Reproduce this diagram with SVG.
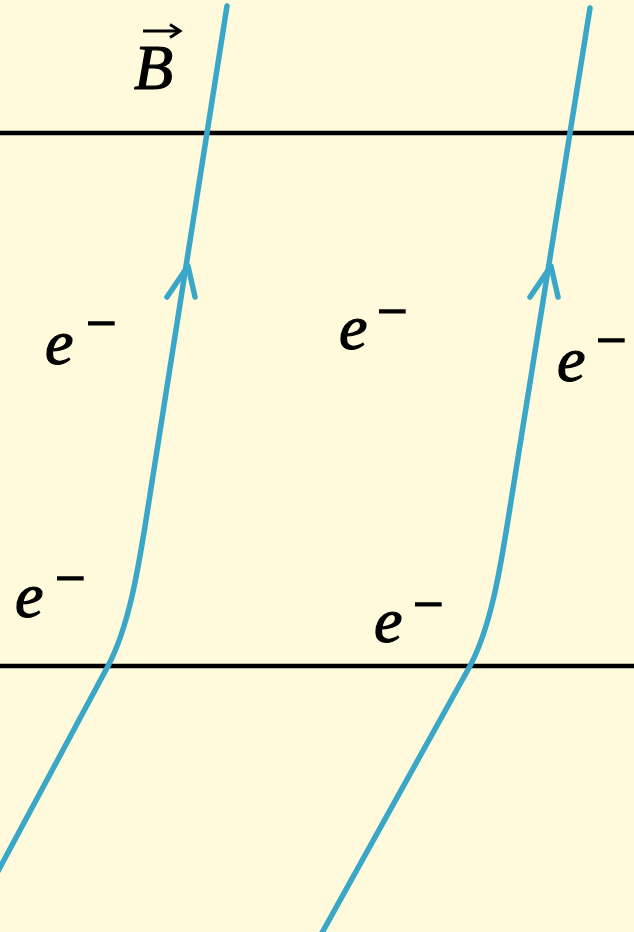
<svg xmlns="http://www.w3.org/2000/svg" width="634" height="932" viewBox="0 0 634 932">
<style>
.bg{fill:#fffadc}
.plate{stroke:#000;stroke-width:4.5;fill:none}
.field{stroke:#3aa7c9;stroke-width:5.5;fill:none;stroke-linecap:round;stroke-linejoin:round}
.lbl{font-family:"Liberation Serif","DejaVu Serif",serif;font-style:italic;font-size:64px;fill:#000;stroke:#000;stroke-width:1.2}
.sup{font-style:normal;font-size:54px;stroke-width:1.6}
</style>
<rect class="bg" x="0" y="0" width="634" height="932"/>
<g id="plates">
<line class="plate" x1="0" y1="133" x2="634" y2="133"/>
<line class="plate" x1="0" y1="666" x2="634" y2="666"/>
</g>
<g id="connectors">
<path class="field" d="M227,6 L146,520 C138,570 129,626 108,666 L-4,875"/>
<path class="field" d="M167,297 L188,266 L195,297"/>
<path class="field" d="M590,8 L508,520 C500,570 491,626 470,666 L318,940"/>
<path class="field" d="M530,297 L551,266 L558,297"/>
</g>
<g id="label-B">
<text class="lbl" x="134" y="89" font-size="68">B</text>
<line x1="143" y1="31" x2="178" y2="31" stroke="#000" stroke-width="3"/>
<path d="M170,24.5 L180,31 L170,37.5" stroke="#000" stroke-width="3" fill="none"/>
</g>
<g id="label-e1"><text class="lbl" x="45" y="364">e<tspan class="sup" x="86" y="341">−</tspan></text></g>
<g id="label-e2"><text class="lbl" x="339" y="349">e<tspan class="sup" x="377" y="329">−</tspan></text></g>
<g id="label-e3"><text class="lbl" x="557" y="381">e<tspan class="sup" x="596" y="358">−</tspan></text></g>
<g id="label-e4"><text class="lbl" x="15" y="617">e<tspan class="sup" x="55" y="596">−</tspan></text></g>
<g id="label-e5"><text class="lbl" x="374" y="642">e<tspan class="sup" x="413" y="622">−</tspan></text></g>
</svg>
